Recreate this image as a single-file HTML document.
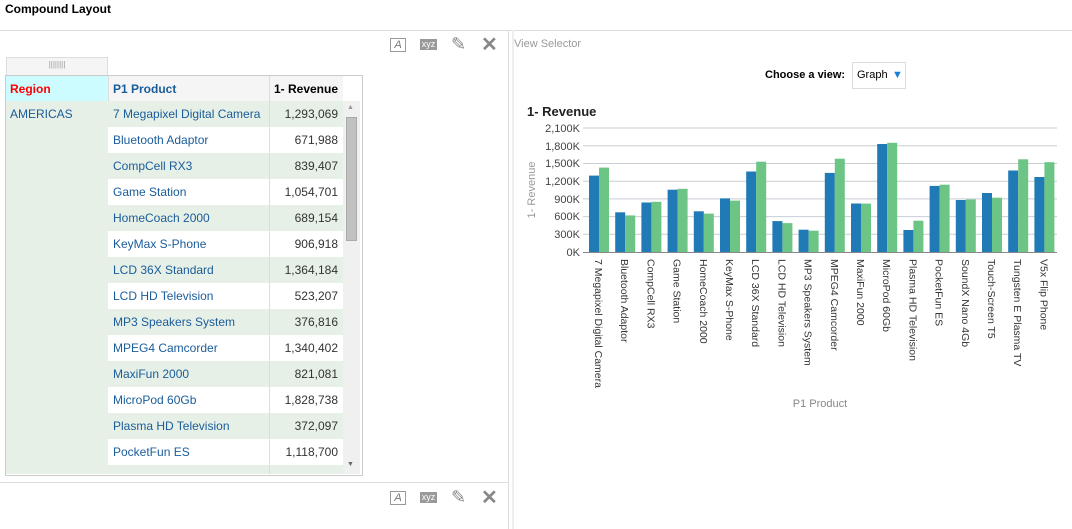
<!DOCTYPE html>
<html><head><meta charset="utf-8"><style>
body{margin:0;width:1072px;height:529px;overflow:hidden;background:#fff;font-family:"Liberation Sans",sans-serif;position:relative}
.a{position:absolute}
.t{font-size:12px;color:#1a5c9a;line-height:27px}
.row{position:absolute;left:108px;width:235px;height:26px;border-bottom:1px solid #fff}
.g{background:#e6f0e6}
.num{position:absolute;left:270px;width:68px;text-align:right;font-size:12px;color:#333;line-height:27px}
</style></head><body>
<div class="a" style="left:5px;top:2px;font-size:12px;font-weight:bold;color:#000">Compound Layout</div>
<div class="a" style="left:0;top:30px;width:1072px;height:1px;background:#ddd"></div>
<div class="a" style="left:508px;top:30px;width:1px;height:499px;background:#ddd"></div>
<div class="a" style="left:0;top:482px;width:508px;height:1px;background:#ddd"></div>
<div class="a" style="left:512px;top:30px;width:2px;height:499px;background:#eee"></div>

<div class="a" style="left:390px;top:38px;width:14px;height:12px;border:1px solid #999;font-size:11px;color:#777;text-align:center;line-height:12px;font-style:italic">A</div>
<div class="a" style="left:420px;top:39px;width:17px;height:11px;background:#999;color:#fff;font-size:9px;text-align:center;line-height:11px">xyz</div>
<div class="a" style="left:451px;top:34px;font-size:18px;color:#888">✎</div>
<div class="a" style="left:481px;top:32px;font-size:20px;font-weight:bold;color:#888">✕</div>
<div class="a" style="left:390px;top:491px;width:14px;height:12px;border:1px solid #999;font-size:11px;color:#777;text-align:center;line-height:12px;font-style:italic">A</div>
<div class="a" style="left:420px;top:492px;width:17px;height:11px;background:#999;color:#fff;font-size:9px;text-align:center;line-height:11px">xyz</div>
<div class="a" style="left:451px;top:487px;font-size:18px;color:#888">✎</div>
<div class="a" style="left:481px;top:485px;font-size:20px;font-weight:bold;color:#888">✕</div>

<div class="a" style="left:6px;top:57px;width:100px;height:18px;background:#f5f5f5;border:1px solid #ddd;border-bottom:none;text-align:center;font-size:8px;color:#999;line-height:14px">||||||||</div>
<div class="a" style="left:5px;top:75px;width:356px;height:399px;border:1px solid #ccc;background:#fff"></div>
<div class="a" style="left:6px;top:76px;width:102px;height:25px;background:#ccfcff"></div>
<div class="a" style="left:108px;top:76px;width:235px;height:25px;background:#f5f5f5"></div>
<div class="a" style="left:108px;top:76px;width:1px;height:25px;background:#ddd"></div>
<div class="a" style="left:269px;top:76px;width:1px;height:25px;background:#ddd"></div>
<div class="a" style="left:10px;top:77px;font-size:12px;font-weight:bold;color:#f00;line-height:25px">Region</div>
<div class="a" style="left:113px;top:77px;font-size:12px;font-weight:bold;color:#1a5c9a;line-height:25px">P1 Product</div>
<div class="a" style="left:270px;top:77px;width:68px;text-align:right;font-size:12px;font-weight:bold;color:#000;line-height:25px">1- Revenue</div>
<div class="a" style="left:6px;top:101px;width:102px;height:373px;background:#e6f0e6"></div>
<div class="a t" style="left:10px;top:101px">AMERICAS</div>
<div class="a" style="left:343px;top:101px;width:17px;height:373px;background:#f0f0f0"></div>
<div class="a" style="left:346px;top:117px;width:11px;height:124px;background:#c1c1c1;border:1px solid #aaa;box-sizing:border-box"></div>
<div class="a" style="left:347px;top:104px;font-size:7px;color:#999">▲</div>
<div class="a" style="left:347px;top:461px;font-size:7px;color:#666">▼</div>

<div class="row g" style="top:101px"></div><div class="a t" style="left:113px;top:101px">7 Megapixel Digital Camera</div><div class="num" style="top:101px">1,293,069</div>
<div class="row" style="top:127px"></div><div class="a t" style="left:113px;top:127px">Bluetooth Adaptor</div><div class="num" style="top:127px">671,988</div>
<div class="row g" style="top:153px"></div><div class="a t" style="left:113px;top:153px">CompCell RX3</div><div class="num" style="top:153px">839,407</div>
<div class="row" style="top:179px"></div><div class="a t" style="left:113px;top:179px">Game Station</div><div class="num" style="top:179px">1,054,701</div>
<div class="row g" style="top:205px"></div><div class="a t" style="left:113px;top:205px">HomeCoach 2000</div><div class="num" style="top:205px">689,154</div>
<div class="row" style="top:231px"></div><div class="a t" style="left:113px;top:231px">KeyMax S-Phone</div><div class="num" style="top:231px">906,918</div>
<div class="row g" style="top:257px"></div><div class="a t" style="left:113px;top:257px">LCD 36X Standard</div><div class="num" style="top:257px">1,364,184</div>
<div class="row" style="top:283px"></div><div class="a t" style="left:113px;top:283px">LCD HD Television</div><div class="num" style="top:283px">523,207</div>
<div class="row g" style="top:309px"></div><div class="a t" style="left:113px;top:309px">MP3 Speakers System</div><div class="num" style="top:309px">376,816</div>
<div class="row" style="top:335px"></div><div class="a t" style="left:113px;top:335px">MPEG4 Camcorder</div><div class="num" style="top:335px">1,340,402</div>
<div class="row g" style="top:361px"></div><div class="a t" style="left:113px;top:361px">MaxiFun 2000</div><div class="num" style="top:361px">821,081</div>
<div class="row" style="top:387px"></div><div class="a t" style="left:113px;top:387px">MicroPod 60Gb</div><div class="num" style="top:387px">1,828,738</div>
<div class="row g" style="top:413px"></div><div class="a t" style="left:113px;top:413px">Plasma HD Television</div><div class="num" style="top:413px">372,097</div>
<div class="row" style="top:439px"></div><div class="a t" style="left:113px;top:439px">PocketFun ES</div><div class="num" style="top:439px">1,118,700</div>
<div class="row g" style="top:465px;height:9px"></div>
<div class="a" style="left:269px;top:101px;width:1px;height:373px;background:#ddd"></div>

<div class="a" style="left:514px;top:38px;font-size:11px;color:#999">View Selector</div>
<div class="a" style="left:765px;top:69px;font-size:11px;font-weight:bold;color:#000">Choose a view:</div>
<div class="a" style="left:852px;top:62px;width:54px;height:27px;border:1px solid #ddd;box-sizing:border-box"></div>
<div class="a" style="left:857px;top:69px;font-size:11px;color:#000">Graph</div>
<div class="a" style="left:892px;top:69px;font-size:11px;color:#1a7fd4">▼</div>

<svg class="a" style="left:0;top:0" width="1072" height="529" font-family="Liberation Sans, sans-serif">
<text x="527" y="116" font-size="13" font-weight="bold" fill="#222">1- Revenue</text>
<g stroke="#c8ced4" stroke-width="1">
<line x1="583" x2="1057" y1="128" y2="128"/><line x1="583" x2="1057" y1="145.8" y2="145.8"/><line x1="583" x2="1057" y1="163.5" y2="163.5"/><line x1="583" x2="1057" y1="181.2" y2="181.2"/><line x1="583" x2="1057" y1="198.9" y2="198.9"/><line x1="583" x2="1057" y1="216.6" y2="216.6"/><line x1="583" x2="1057" y1="234.3" y2="234.3"/>
</g>
<line x1="583" x2="1057" y1="252.5" y2="252.5" stroke="#888"/>
<g font-size="11" fill="#444" text-anchor="end">
<text x="580" y="132">2,100K</text><text x="580" y="150">1,800K</text><text x="580" y="167">1,500K</text><text x="580" y="185">1,200K</text><text x="580" y="203">900K</text><text x="580" y="220">600K</text><text x="580" y="238">300K</text><text x="580" y="256">0K</text>
</g>
<text transform="translate(535,190) rotate(-90)" font-size="11" fill="#999" text-anchor="middle">1- Revenue</text>
<g fill="#1f7ab5">
<rect x="589" y="175.6" width="10" height="76.4"/><rect x="615.2" y="212.3" width="10" height="39.7"/><rect x="641.4" y="202.5" width="10" height="49.5"/><rect x="667.6" y="189.7" width="10" height="62.3"/><rect x="693.8" y="211.3" width="10" height="40.7"/><rect x="720" y="198.4" width="10" height="53.6"/><rect x="746.2" y="171.5" width="10" height="80.5"/><rect x="772.4" y="221.1" width="10" height="30.9"/><rect x="798.6" y="229.7" width="10" height="22.3"/><rect x="824.8" y="172.9" width="10" height="79.1"/><rect x="851" y="203.5" width="10" height="48.5"/><rect x="877.2" y="144" width="10" height="108"/><rect x="903.4" y="230" width="10" height="22"/><rect x="929.6" y="185.9" width="10" height="66.1"/><rect x="955.8" y="200" width="10" height="52"/><rect x="982" y="193" width="10" height="59"/><rect x="1008.2" y="170.5" width="10" height="81.5"/><rect x="1034.4" y="177" width="10" height="75"/>
</g>
<g fill="#6cc485">
<rect x="599" y="167.6" width="10" height="84.4"/><rect x="625.2" y="215.4" width="10" height="36.6"/><rect x="651.4" y="201.8" width="10" height="50.2"/><rect x="677.6" y="188.8" width="10" height="63.2"/><rect x="703.8" y="213.6" width="10" height="38.4"/><rect x="730" y="200.6" width="10" height="51.4"/><rect x="756.2" y="161.7" width="10" height="90.3"/><rect x="782.4" y="223.1" width="10" height="28.9"/><rect x="808.6" y="230.7" width="10" height="21.3"/><rect x="834.8" y="158.7" width="10" height="93.3"/><rect x="861" y="203.6" width="10" height="48.4"/><rect x="887.2" y="142.8" width="10" height="109.2"/><rect x="913.4" y="220.7" width="10" height="31.3"/><rect x="939.6" y="184.7" width="10" height="67.3"/><rect x="965.8" y="199.4" width="10" height="52.6"/><rect x="992" y="197.7" width="10" height="54.3"/><rect x="1018.2" y="159.3" width="10" height="92.7"/><rect x="1044.4" y="162.2" width="10" height="89.8"/>
</g>
<g font-size="10.5" fill="#333">
<text transform="translate(595,259) rotate(90)">7 Megapixel Digital Camera</text>
<text transform="translate(621.2,259) rotate(90)">Bluetooth Adaptor</text>
<text transform="translate(647.4,259) rotate(90)">CompCell RX3</text>
<text transform="translate(673.6,259) rotate(90)">Game Station</text>
<text transform="translate(699.8,259) rotate(90)">HomeCoach 2000</text>
<text transform="translate(726,259) rotate(90)">KeyMax S-Phone</text>
<text transform="translate(752.2,259) rotate(90)">LCD 36X Standard</text>
<text transform="translate(778.4,259) rotate(90)">LCD HD Television</text>
<text transform="translate(804.6,259) rotate(90)">MP3 Speakers System</text>
<text transform="translate(830.8,259) rotate(90)">MPEG4 Camcorder</text>
<text transform="translate(857,259) rotate(90)">MaxiFun 2000</text>
<text transform="translate(883.2,259) rotate(90)">MicroPod 60Gb</text>
<text transform="translate(909.4,259) rotate(90)">Plasma HD Television</text>
<text transform="translate(935.6,259) rotate(90)">PocketFun ES</text>
<text transform="translate(961.8,259) rotate(90)">SoundX Nano 4Gb</text>
<text transform="translate(988,259) rotate(90)">Touch-Screen T5</text>
<text transform="translate(1014.2,259) rotate(90)">Tungsten E Plasma TV</text>
<text transform="translate(1040.4,259) rotate(90)">V5x Flip Phone</text>
</g>
<text x="820" y="407" font-size="11" fill="#888" text-anchor="middle">P1 Product</text>
</svg>
</body></html>
